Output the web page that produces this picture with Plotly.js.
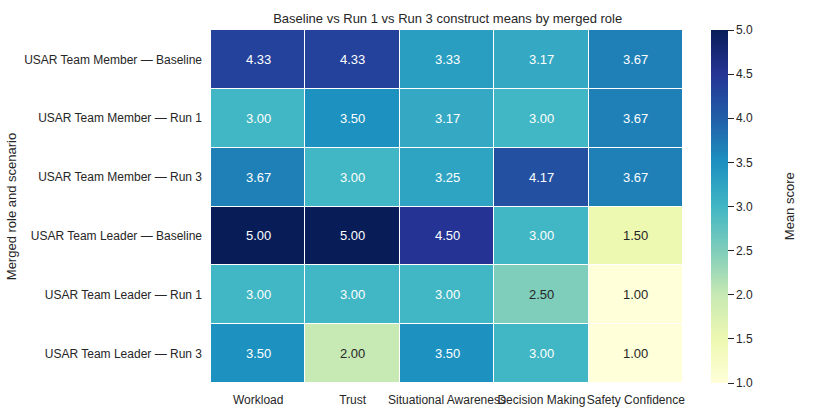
<!DOCTYPE html>
<html>
<head>
<meta charset="utf-8">
<script src="https://cdn.plot.ly/plotly-3.0.1.min.js"></script>
<style>html,body{margin:0;padding:0;background:#fff}#chart{width:815px;height:419px}</style>
</head>
<body>
<div id="chart"></div>
<script>
const constructs = ["Workload", "Trust", "Situational Awareness", "Decision Making", "Safety Confidence"];
const roles = [
  "USAR Team Member — Baseline",
  "USAR Team Member — Run 1",
  "USAR Team Member — Run 3",
  "USAR Team Leader — Baseline",
  "USAR Team Leader — Run 1",
  "USAR Team Leader — Run 3"
];
const memberBaseline = [4.33, 4.33, 3.33, 3.17, 3.67];
const memberRun1     = [3.00, 3.50, 3.17, 3.00, 3.67];
const memberRun3     = [3.67, 3.00, 3.25, 4.17, 3.67];
const leaderBaseline = [5.00, 5.00, 4.50, 3.00, 1.50];
const leaderRun1     = [3.00, 3.00, 3.00, 2.50, 1.00];
const leaderRun3     = [3.50, 2.00, 3.50, 3.00, 1.00];
const z = [memberBaseline, memberRun1, memberRun3, leaderBaseline, leaderRun1, leaderRun3];
const colorbarTicks = [1.0, 1.5, 2.0, 2.5, 3.0, 3.5, 4.0, 4.5, 5.0];

const ylgnbu = [
  [0.0, "#ffffd9"], [0.125, "#edf8b1"], [0.25, "#c7e9b4"], [0.375, "#7fcdbb"],
  [0.5, "#41b6c4"], [0.625, "#1d91c0"], [0.75, "#225ea8"], [0.875, "#253494"], [1.0, "#081d58"]
];
const zmin = 1, zmax = 5;
const dark = "#262626";
const fam = "Liberation Sans, Arial, sans-serif";

const annotations = [];
z.forEach((row, i) => row.forEach((v, j) => {
  const t = (v - zmin) / (zmax - zmin);
  annotations.push({
    x: constructs[j], y: roles[i], xref: "x", yref: "y",
    text: v.toFixed(2), showarrow: false,
    font: {family: fam, size: 13, color: t <= 0.45 ? dark : "#ffffff"}
  });
}));
annotations.push({
  text: "Mean score", xref: "paper", yref: "paper", x: 1.226, y: 0.5,
  xanchor: "center", yanchor: "middle", textangle: -90, showarrow: false,
  font: {family: fam, size: 13, color: dark}
});

const trace = {
  type: "heatmap", z: z, x: constructs, y: roles,
  colorscale: ylgnbu, zmin: zmin, zmax: zmax,
  xgap: 1, ygap: 1, hoverinfo: "skip",
  colorbar: {
    x: 1.0376, xanchor: "left", xref: "paper",
    y: 0.5, yanchor: "middle", len: 1, lenmode: "fraction", ypad: 0,
    thickness: 17, outlinewidth: 0,
    ticks: "outside", ticklen: 6, tickwidth: 1, tickcolor: dark,
    tickvals: colorbarTicks,
    ticktext: colorbarTicks.map(v => v.toFixed(1)),
    tickfont: {family: fam, size: 12, color: dark}
  }
};

const layout = {
  width: 815, height: 419,
  margin: {l: 211, r: 132, t: 30, b: 36},
  paper_bgcolor: "#ffffff", plot_bgcolor: "#ffffff",
  font: {family: fam, size: 12, color: dark},
  title: {text: "Baseline vs Run 1 vs Run 3 construct means by merged role",
          font: {size: 13, color: dark}, x: 0.5493, xanchor: "center", y: 0.955, yanchor: "middle"},
  xaxis: {showgrid: false, zeroline: false, ticks: "", ticklen: 0, tickangle: 0,
          tickfont: {size: 12, color: dark}, showline: false, ticklabelstandoff: 8},
  yaxis: {autorange: "reversed", showgrid: false, zeroline: false, ticks: "", ticklen: 0,
          tickfont: {size: 12, color: dark}, showline: false, ticklabelstandoff: 8,
          title: {text: "Merged role and scenario", font: {size: 13, color: dark}, standoff: 4}},
  annotations: annotations
};

Plotly.newPlot("chart", [trace], layout, {displayModeBar: false, staticPlot: true});
</script>
</body>
</html>
